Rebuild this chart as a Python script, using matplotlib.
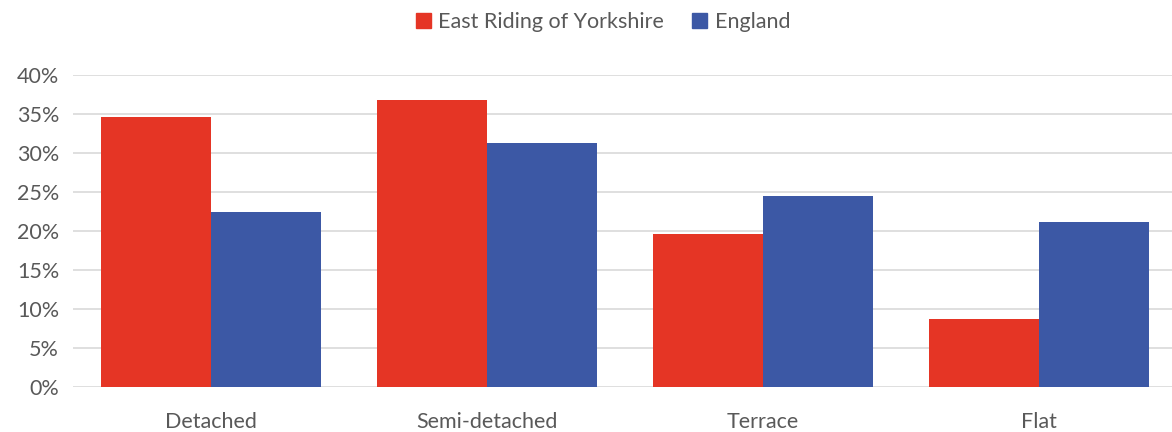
import matplotlib
matplotlib.use("Agg")
import matplotlib.pyplot as plt
import numpy as np
from matplotlib.patches import Patch

categories = ["Detached", "Semi-detached", "Terrace", "Flat"]
east_riding = [34.6, 36.7, 19.6, 8.8]
england = [22.4, 31.3, 24.5, 21.2]
yticks = [0, 5, 10, 15, 20, 25, 30, 35, 40]
series_names = ["East Riding of Yorkshire", "England"]

red = "#E53525"
blue = "#3C58A5"
grey = "#595959"

plt.rcParams['font.family'] = ['Lato', 'DejaVu Sans']

W, H = 1172, 432
fig = plt.figure(figsize=(W/100, H/100), dpi=100)
left = 73 / W
right = 1177 / W
bottom = 1 - 387.3 / H
top = 1 - 74.7 / H
ax = fig.add_axes([left, bottom, right - left, top - bottom])

x = np.arange(len(categories))
bw = 110 / 276
ax.bar(x - bw/2, east_riding, width=bw, color=red, zorder=3)
ax.bar(x + bw/2, england, width=bw, color=blue, zorder=3)

ax.set_xlim(-0.5, 3.5)
ax.set_ylim(0, 40)
ax.set_yticks(yticks)
ax.set_yticklabels([f"{v}%" for v in yticks])
ax.set_xticks(x)
ax.set_xticklabels(categories)
ax.grid(axis='y', color='#D9D9D9', linewidth=1.2, zorder=0)
ax.tick_params(axis='both', length=0, labelsize=15.5, colors=grey)
ax.tick_params(axis='y', pad=10)
ax.tick_params(axis='x', pad=18)
for s in ax.spines.values():
    s.set_visible(False)

handles = [Patch(color=red), Patch(color=blue)]
fig.legend(handles, series_names, loc='center', bbox_to_anchor=(603/W, 1 - 22/H),
           ncol=2, frameon=False, fontsize=15.5, labelcolor=grey,
           handlelength=0.7, handleheight=0.7, handletextpad=0.35, columnspacing=1.3)

fig.savefig("out.png", dpi=100)
